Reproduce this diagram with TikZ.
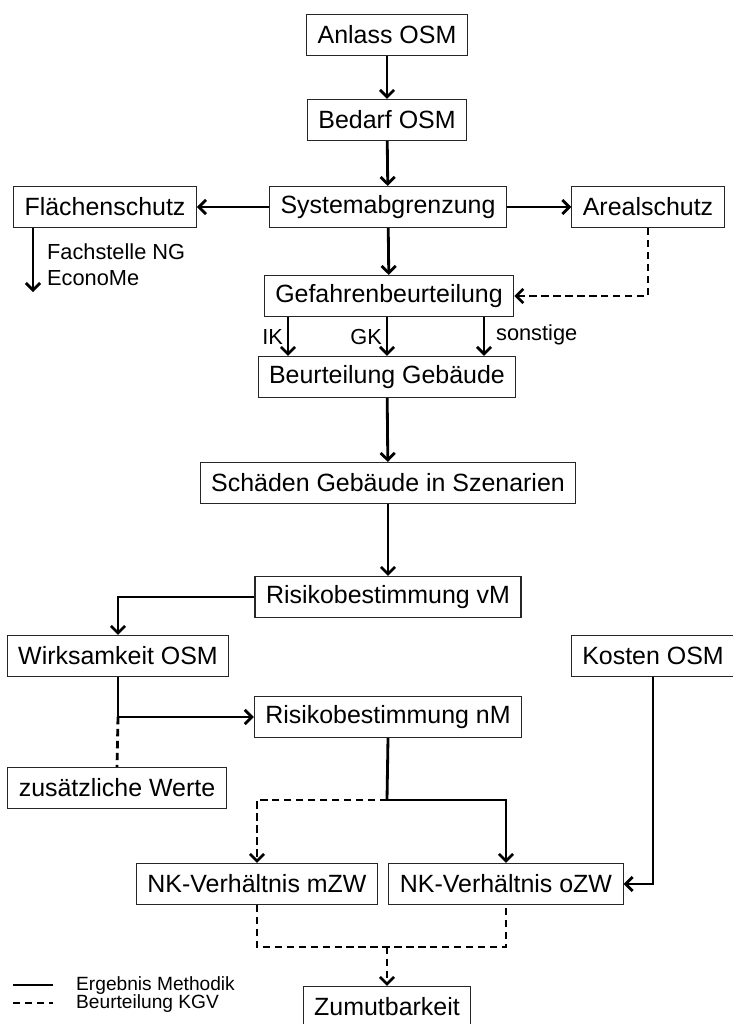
\documentclass[tikz,border=0pt]{standalone}
\usepackage{fontspec}
\setmainfont{Liberation Sans}
\usetikzlibrary{arrows.meta}

\begin{document}
\begin{tikzpicture}[x=0.02cm,y=-0.02cm,
    box/.style={draw=black!85,line width=0.6pt,inner xsep=0.22cm,inner ysep=0pt,minimum height=0.82cm,font=\fontsize{14.2}{17}\selectfont},
    lbl/.style={font=\fontsize{12.4}{15}\selectfont,inner sep=1pt},
    arr/.style={line width=1.6pt,-{Straight Barb[length=4pt,width=8pt]}},
    con/.style={line width=1.6pt},
    dsh/.style={dash pattern=on 4.2pt off 2.6pt}]
    \useasboundingbox (0,0) rectangle (733,1024);
    \node[box] (anlass) at (387,35) {Anlass OSM};
    \node[box] (bedarf) at (387,120) {Bedarf OSM};
    \node[box] (system) at (388,207) {Systemabgrenzung};
    \node[box] (flaeche) at (105,207) {Flächenschutz};
    \node[box] (areal) at (648,207) {Arealschutz};
    \node[box] (gefahr) at (389,296) {Gefahrenbeurteilung};
    \node[box] (beurt) at (387,377) {Beurteilung Gebäude};
    \node[box] (schaeden) at (388,483) {Schäden Gebäude in Szenarien};
    \node[box] (rvm) at (388,597) {Risikobestimmung vM};
    \node[box] (wirk) at (118,656) {Wirksamkeit OSM};
    \node[box] (kosten) at (653,656) {Kosten OSM};
    \node[box] (rnm) at (388,717) {Risikobestimmung nM};
    \node[box] (zus) at (117,788) {zusätzliche Werte};
    \node[box] (mzw) at (257,884) {NK-Verhältnis mZW};
    \node[box] (ozw) at (506,884) {NK-Verhältnis oZW};
    \node[box] (zumut) at (387,1007) {Zumutbarkeit};
    \coordinate (fend) at (33,292);
    \coordinate (wsplit) at (118,717);
    \coordinate (rsplit) at (387,800);
    \coordinate (nkjoin) at (387,947);
    \draw[arr] (anlass) -- (bedarf);
    \draw[arr] (bedarf) -- (system);
    \draw[arr] (system) -- (flaeche);
    \draw[arr] (system) -- (areal);
    \draw[arr] (system) -- (gefahr);
    \draw[arr] (flaeche.south -| fend) -- (fend);
    \node[lbl,anchor=west] (fachst) at (45,252) {Fachstelle NG};
    \node[lbl,anchor=west] (econo) at (45,278) {EconoMe};
    \draw[arr,dsh] (areal.south) |- (gefahr.east);
    \foreach \x in {288,387,484}
        \draw[arr] (gefahr.south -| \x,0) -- (beurt.north -| \x,0);
    \node[lbl,anchor=east] (ik) at (285,337) {IK};
    \node[lbl,anchor=east] (gk) at (384,337) {GK};
    \node[lbl,anchor=west] (sonst) at (494,335) {sonstige};
    \draw[arr] (beurt) -- (schaeden);
    \draw[arr] (schaeden) -- (rvm);
    \draw[arr] (rvm.west) -| (wirk.north);
    \draw[con] (wirk.south) -- (wsplit);
    \draw[arr] (wsplit) -- (rnm.west);
    \draw[con,dsh] (wsplit) -- (zus.north);
    \draw[con] (rnm.south) -- (rsplit);
    \draw[arr] (rsplit) -| (ozw.north);
    \draw[arr,dsh] (rsplit) -| (mzw.north);
    \draw[arr] (kosten.south) |- (ozw.east);
    \draw[con,dsh] (mzw.south) |- (nkjoin) -| (ozw.south);
    \draw[arr,dsh] (nkjoin) -- (zumut.north);
    \draw[con] (13,985) -- (53,985);
    \node[anchor=west,font=\fontsize{10.9}{12}\selectfont] (ergeb) at (70,986) {Ergebnis Methodik};
    \draw[con,dsh] (13,1003) -- (53,1003);
    \node[anchor=west,font=\fontsize{10.9}{12}\selectfont] (kgv) at (70,1004) {Beurteilung KGV};
\end{tikzpicture}
\end{document}
